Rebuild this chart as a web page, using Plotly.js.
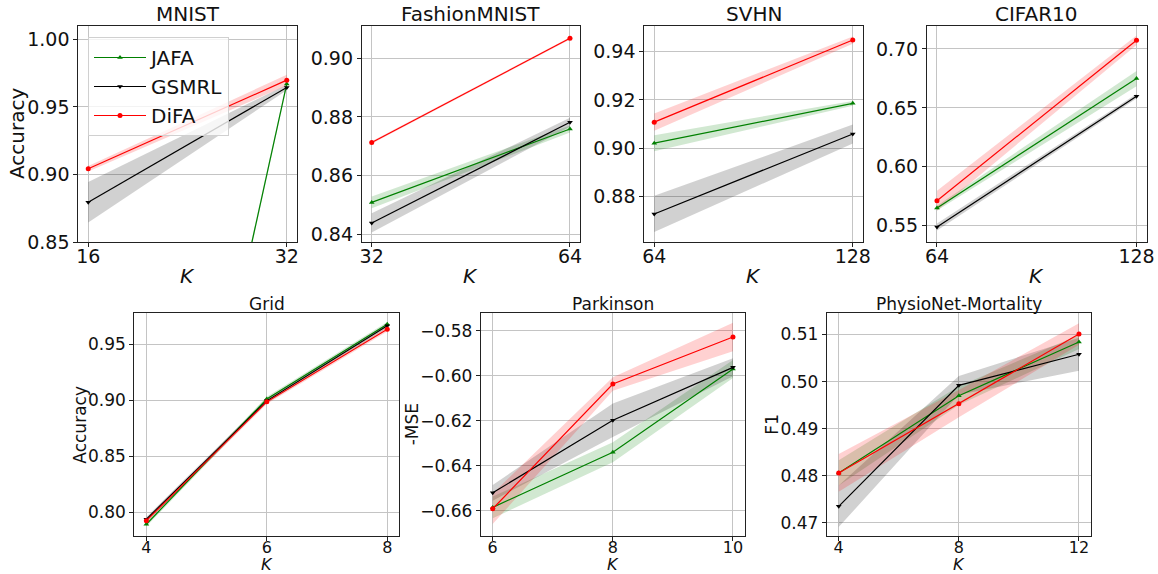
<!DOCTYPE html>
<html>
<head>
<meta charset="utf-8">
<script src="https://cdn.plot.ly/plotly-3.0.1.min.js"></script>
<style>html,body{margin:0;padding:0;background:#fff;}#chart{width:1158px;height:574px;}</style>
</head>
<body>
<div id="chart"></div>
<script>
// ---------- DATA ----------
const methods = ["JAFA", "GSMRL", "DiFA"];

const mnistK = [16, 32];
const mnistJAFA = [0.30, 0.967];
const mnistJAFAStd = [0.005, 0.002];
const mnistGSMRL = [0.8795, 0.9644];
const mnistGSMRLStd = [0.015, 0.002];
const mnistDiFA = [0.9042, 0.9698];
const mnistDiFAStd = [0.002, 0.004];

const fashionK = [32, 64];
const fashionJAFA = [0.8509, 0.8759];
const fashionJAFAStd = [0.002, 0.0012];
const fashionGSMRL = [0.8439, 0.8782];
const fashionGSMRLStd = [0.0033, 0.0015];
const fashionDiFA = [0.8713, 0.9068];
const fashionDiFAStd = [0.0004, 0.0004];

const svhnK = [64, 128];
const svhnJAFA = [0.9021, 0.9186];
const svhnJAFAStd = [0.0033, 0.001];
const svhnGSMRL = [0.8728, 0.9059];
const svhnGSMRLStd = [0.0075, 0.0039];
const svhnDiFA = [0.9108, 0.9448];
const svhnDiFAStd = [0.0036, 0.0015];

const cifarK = [64, 128];
const cifarJAFA = [0.565, 0.6749];
const cifarJAFAStd = [0.002, 0.0065];
const cifarGSMRL = [0.5489, 0.6599];
const cifarGSMRLStd = [0.003, 0.002];
const cifarDiFA = [0.5712, 0.7074];
const cifarDiFAStd = [0.0085, 0.004];

const gridK = [4, 6, 8];
const gridJAFA = [0.7893, 0.9012, 0.9679];
const gridJAFAStd = [0.002, 0.002, 0.002];
const gridGSMRL = [0.7938, 0.8995, 0.9666];
const gridGSMRLStd = [0.002, 0.002, 0.002];
const gridDiFA = [0.7925, 0.8986, 0.9634];
const gridDiFAStd = [0.002, 0.002, 0.002];

const parkK = [6, 8, 10];
const parkJAFA = [-0.6585, -0.634, -0.597];
const parkJAFAStd = [0.0048, 0.0044, 0.004];
const parkGSMRL = [-0.652, -0.6198, -0.5963];
const parkGSMRLStd = [0.0035, 0.0074, 0.004];
const parkDiFA = [-0.6591, -0.6037, -0.5828];
const parkDiFAStd = [0.0068, 0.003, 0.0063];

const physioK = [4, 8, 12];
const physioJAFA = [0.4806, 0.497, 0.5084];
const physioJAFAStd = [0.0027, 0.002, 0.0015];
const physioGSMRL = [0.4735, 0.4992, 0.5058];
const physioGSMRLStd = [0.0044, 0.002, 0.0035];
const physioDiFA = [0.4806, 0.4953, 0.5101];
const physioDiFAStd = [0.004, 0.0029, 0.0023];

const titles = ["MNIST", "FashionMNIST", "SVHN", "CIFAR10", "Grid", "Parkinson", "PhysioNet-Mortality"];
const yTitles = ["Accuracy", "", "", "", "Accuracy", "-MSE", "F1"];
const yTickVals = [
  [0.85, 0.90, 0.95, 1.00],
  [0.84, 0.86, 0.88, 0.90],
  [0.88, 0.90, 0.92, 0.94],
  [0.55, 0.60, 0.65, 0.70],
  [0.80, 0.85, 0.90, 0.95],
  [-0.66, -0.64, -0.62, -0.60, -0.58],
  [0.47, 0.48, 0.49, 0.50, 0.51]
];

// ---------- PANELS ----------
const panels = [
  {K: mnistK, s: [[mnistJAFA, mnistJAFAStd], [mnistGSMRL, mnistGSMRLStd], [mnistDiFA, mnistDiFAStd]]},
  {K: fashionK, s: [[fashionJAFA, fashionJAFAStd], [fashionGSMRL, fashionGSMRLStd], [fashionDiFA, fashionDiFAStd]]},
  {K: svhnK, s: [[svhnJAFA, svhnJAFAStd], [svhnGSMRL, svhnGSMRLStd], [svhnDiFA, svhnDiFAStd]]},
  {K: cifarK, s: [[cifarJAFA, cifarJAFAStd], [cifarGSMRL, cifarGSMRLStd], [cifarDiFA, cifarDiFAStd]]},
  {K: gridK, s: [[gridJAFA, gridJAFAStd], [gridGSMRL, gridGSMRLStd], [gridDiFA, gridDiFAStd]]},
  {K: parkK, s: [[parkJAFA, parkJAFAStd], [parkGSMRL, parkGSMRLStd], [parkDiFA, parkDiFAStd]]},
  {K: physioK, s: [[physioJAFA, physioJAFAStd], [physioGSMRL, physioGSMRLStd], [physioDiFA, physioDiFAStd]]}
];

// layout geometry (pixels)
const W = 1158, H = 574;
const boxes = [
  {l: 78.3, r: 296.7, t: 26, b: 242, yr: [0.85, 1.0099]},
  {l: 361.8, r: 579.9, t: 26, b: 242, yr: [0.8374, 0.911]},
  {l: 644.3, r: 862.7, t: 26, b: 242, yr: [0.8612, 0.9506]},
  {l: 927, r: 1146.5, t: 26, b: 242, yr: [0.5362, 0.7195]},
  {l: 134.3, r: 399.3, t: 313.3, b: 536, yr: [0.7788, 0.9777]},
  {l: 480.7, r: 745, t: 313.3, b: 536, yr: [-0.6712, -0.5723]},
  {l: 826.7, r: 1091, t: 313.3, b: 536, yr: [0.4672, 0.5145]}
];

const lineColors = ["green", "black", "red"];
const bandColors = ["rgba(0,128,0,0.18)", "rgba(0,0,0,0.18)", "rgba(255,0,0,0.18)"];
const symbols = ["triangle-up", "triangle-down", "circle"];

const FONT = "DejaVu Sans, Liberation Sans, sans-serif";
const traces = [];
const layout = {
  width: W, height: H,
  margin: {l: 0, r: 0, t: 0, b: 0},
  paper_bgcolor: "white", plot_bgcolor: "white",
  showlegend: true,
  legend: {
    x: 88 / W, y: 1 - 37 / H, xanchor: "left", yanchor: "top",
    bgcolor: "rgba(255,255,255,0.8)", bordercolor: "#d0d0d0", borderwidth: 1,
    font: {family: FONT, size: 20, color: "#111"},
    tracegroupgap: 0, itemwidth: 52
  },
  annotations: []
};

panels.forEach((p, i) => {
  const n = i + 1;
  const xa = n === 1 ? "x" : "x" + n;
  const ya = n === 1 ? "y" : "y" + n;
  p.s.forEach((pair, m) => {
    const mean = pair[0], sd = pair[1];
    const upper = mean.map((v, j) => v + sd[j]);
    const lower = mean.map((v, j) => v - sd[j]);
    traces.push({
      x: p.K.concat(p.K.slice().reverse()),
      y: upper.concat(lower.slice().reverse()),
      xaxis: xa, yaxis: ya, type: "scatter", mode: "lines",
      fill: "toself", fillcolor: bandColors[m], line: {width: 0},
      hoverinfo: "skip", showlegend: false, legendgroup: methods[m]
    });
  });
  p.s.forEach((pair, m) => {
    traces.push({
      x: p.K, y: pair[0], xaxis: xa, yaxis: ya, type: "scatter",
      mode: "lines+markers", name: methods[m], legendgroup: methods[m],
      line: {color: lineColors[m], width: 1.2},
      marker: {color: lineColors[m], size: 5, symbol: symbols[m]},
      showlegend: i === 0, cliponaxis: true
    });
  });

  const b = boxes[i];
  const top = i < 4;
  const fs = top ? 19 : 16;
  const span = p.K[p.K.length - 1] - p.K[0];
  const axCommon = {
    showline: true, mirror: true, linecolor: "#222", linewidth: 1,
    ticks: "outside", ticklen: 4, tickwidth: 1, tickcolor: "#222",
    showgrid: true, gridcolor: "#c4c4c4", gridwidth: 1, zeroline: false,
    tickfont: {family: FONT, size: fs, color: "#111"}
  };
  layout["xaxis" + (n === 1 ? "" : n)] = Object.assign({}, axCommon, {
    domain: [b.l / W, b.r / W], anchor: ya,
    range: [p.K[0] - 0.05 * span, p.K[p.K.length - 1] + 0.05 * span],
    tickmode: "array", tickvals: p.K, ticktext: p.K.map(String),
    ticklabelstandoff: -7
  });
  layout["yaxis" + (n === 1 ? "" : n)] = Object.assign({}, axCommon, {
    domain: [1 - b.b / H, 1 - b.t / H], anchor: xa,
    range: b.yr, tickmode: "array", tickvals: yTickVals[i],
    tickfont: {family: FONT, size: top ? 19 : 17, color: "#111"},
    ticktext: yTickVals[i].map(v => (v < 0 ? "\u2212" : "") + Math.abs(v).toFixed(2))
  });

  // subplot title
  layout.annotations.push({
    text: titles[i], xref: "paper", yref: "paper", showarrow: false,
    x: (b.l + b.r) / 2 / W, y: 1 - (top ? 14 : 304) / H, xanchor: "center", yanchor: "middle",
    font: {family: FONT, size: top ? 20 : 17, color: "#111"}
  });
  // x title
  layout.annotations.push({
    text: "<i>K</i>", xref: "paper", yref: "paper", showarrow: false,
    x: (b.l + b.r) / 2 / W, y: 1 - (top ? 276 : 564) / H, xanchor: "center", yanchor: "middle",
    font: {family: FONT, size: top ? 20 : 16, color: "#111"}
  });
  if (yTitles[i]) {
    const yx = [17, 0, 0, 0, 80, 411.7, 772][i];
    layout.annotations.push({
      text: yTitles[i], xref: "paper", yref: "paper", showarrow: false, textangle: -90,
      x: yx / W, y: 1 - (b.t + b.b) / 2 / H, xanchor: "center", yanchor: "middle",
      font: {family: FONT, size: top ? 20 : 17, color: "#111"}
    });
  }
});

Plotly.newPlot("chart", traces, layout, {displayModeBar: false, staticPlot: true});
</script>
</body>
</html>
